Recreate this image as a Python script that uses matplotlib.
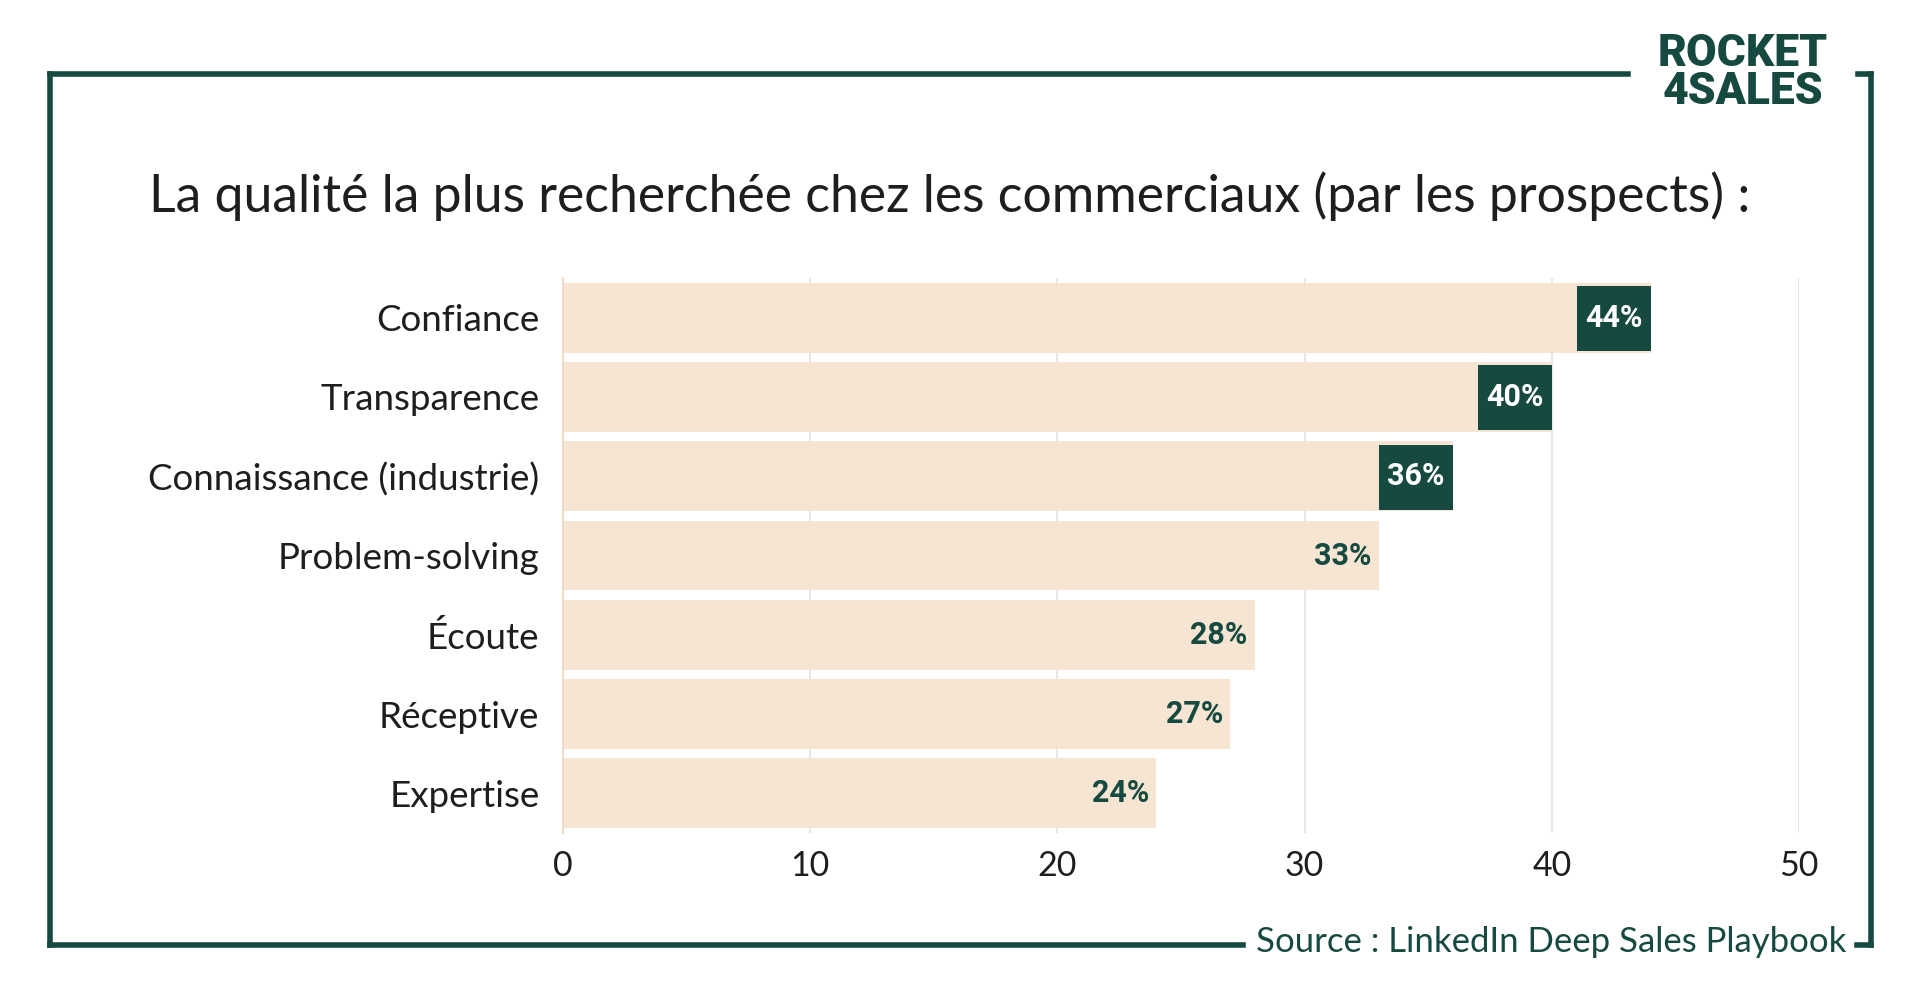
import matplotlib
matplotlib.use("Agg")
import matplotlib.pyplot as plt
from matplotlib.lines import Line2D
from matplotlib.patches import Rectangle

categories = ["Confiance", "Transparence", "Connaissance (industrie)", "Problem-solving",
              "Écoute", "Réceptive", "Expertise"]
values = [44, 40, 36, 33, 28, 27, 24]
value_labels = ["44%", "40%", "36%", "33%", "28%", "27%", "24%"]
highlighted = [True, True, True, False, False, False, False]
xticks = [0, 10, 20, 30, 40, 50]

title = "La qualité la plus recherchée chez les commerciaux (par les prospects) :"
source = "Source : LinkedIn Deep Sales Playbook"

GREEN = "#16493f"
PEACH = "#f6e5d3"
TEXT = "#1e1e1e"

W, H = 1920, 984
fig = plt.figure(figsize=(W / 100, H / 100), dpi=100)
fig.patch.set_facecolor("white")

ax = fig.add_axes([563 / W, 1 - 833 / H, (1799 - 563) / W, (833 - 278) / H])
ypos = list(range(len(categories)))
bar_h = 0.88
ax.barh(ypos, values, height=bar_h, color=PEACH, zorder=2)
ax.set_ylim(len(categories) - 0.5, -0.5)
ax.set_xlim(0, 50)
ax.set_xticks(xticks)
ax.set_xticklabels([str(t) for t in xticks])
ax.set_yticks(ypos)
ax.set_yticklabels(categories)
ax.tick_params(axis="both", length=0, labelcolor=TEXT)
ax.tick_params(axis="x", labelsize=24.5, pad=12)
ax.tick_params(axis="y", labelsize=26.5, pad=17)
for lab in ax.get_xticklabels() + ax.get_yticklabels():
    lab.set_fontfamily("Lato")
ax.grid(axis="x", color="#e3e3e3", linewidth=1.2, zorder=0)
ax.set_axisbelow(True)
for s in ["top", "right", "bottom"]:
    ax.spines[s].set_visible(False)
ax.spines["left"].set_color("#ecdcc8")
ax.spines["left"].set_linewidth(1.5)

box_w = 3.0
for y, v, lab, hl in zip(ypos, values, value_labels, highlighted):
    if hl:
        ax.add_patch(Rectangle((v - box_w, y - bar_h / 2 + 0.04), box_w, bar_h - 0.06,
                               facecolor=GREEN, edgecolor="none", zorder=3))
        ax.text(v - box_w / 2, y, lab, ha="center", va="center", color="white",
                fontsize=22, fontweight="bold", family="Roboto", zorder=4)
    else:
        ax.text(v - 0.3, y, lab, ha="right", va="center", color=GREEN,
                fontsize=22, fontweight="bold", family="Roboto", zorder=4)

fig.text(950 / W, 1 - 196 / H, title, ha="center", va="center", fontsize=37.3,
         family="Lato", color=TEXT)

# Frame
lw = 4
def seg(x0, y0, x1, y1):
    fig.add_artist(Line2D([x0 / W, x1 / W], [1 - y0 / H, 1 - y1 / H],
                          color=GREEN, linewidth=lw, solid_capstyle="projecting"))
seg(50, 74, 1628, 74)
seg(50, 74, 50, 945)
seg(50, 945, 1243, 945)
seg(1858, 74, 1871, 74)
seg(1871, 74, 1871, 945)
seg(1857, 945, 1871, 945)

fig.text(1551 / W, 1 - 942 / H, source, ha="center", va="center", fontsize=25,
         family="Lato", color=GREEN)

fig.text(1743 / W, 1 - 73 / H, "ROCKET\n4SALES", ha="center", va="center", fontsize=32,
         family="Roboto", fontweight="black", color=GREEN, linespacing=0.88)

fig.savefig("out.png", dpi=100, facecolor="white")
